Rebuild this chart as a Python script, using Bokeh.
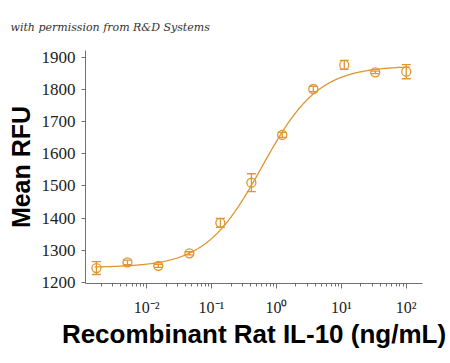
from bokeh.plotting import figure
from bokeh.models import (FixedTicker, Whisker, TeeHead, ColumnDataSource)
from bokeh.embed import file_html
from bokeh.resources import INLINE
import numpy as np

# data
conc = [0.00169, 0.00508, 0.0152, 0.0457, 0.137, 0.412, 1.23, 3.70, 11.1, 33.3, 100.0]
mean_rfu = [1244, 1262, 1251, 1290, 1385, 1510, 1659, 1802, 1877, 1854, 1856]
err = [20, 7, 5, 5, 14, 28, 8, 8, 14, 4, 22]

# 4PL fit parameters
fit_bottom = 1246
fit_top = 1874
fit_ec50 = 0.6
fit_hill = 1.0

x_ticks = [0.01, 0.1, 1, 10, 100]
x_tick_labels = ["10\u207b\u00b2", "10\u207b\u00b9", "10\u2070", "10\u00b9", "10\u00b2"]
y_ticks = [1200, 1300, 1400, 1500, 1600, 1700, 1800, 1900]

orange = "#DE9632"
axis_col = "#707070"

p = figure(frame_width=337, frame_height=233, x_axis_type="log",
           x_range=(10 ** -2.94, 10 ** 2.25), y_range=(1196, 1922),
           output_backend="svg", toolbar_location=None,
           min_border_left=85, min_border_right=25, min_border_top=50, min_border_bottom=72,
           title="with permission from R&D Systems")
p.title.align = "left"
p.title.offset = -75
p.title.standoff = 34
p.title.text_font = "DejaVu Serif"
p.title.text_font_style = "italic"
p.title.text_font_size = "11px"
p.title.text_color = "#333333"

p.outline_line_color = None
p.grid.visible = False
p.background_fill_color = "white"

xs = np.logspace(-2.8, 2.05, 300)
ys = fit_bottom + (fit_top - fit_bottom) / (1 + (fit_ec50 / xs) ** fit_hill)
p.line(xs, ys, line_color=orange, line_width=1.3)

lower = [m - e for m, e in zip(mean_rfu, err)]
upper = [m + e for m, e in zip(mean_rfu, err)]
src = ColumnDataSource(dict(x=conc, y=mean_rfu, lower=lower, upper=upper))
w = Whisker(source=src, base="x", lower="lower", upper="upper", line_color=orange, line_width=1.3,
            upper_head=TeeHead(size=9, line_color=orange, line_width=1.3),
            lower_head=TeeHead(size=9, line_color=orange, line_width=1.3))
p.add_layout(w)
p.scatter("x", "y", source=src, marker="circle", size=9, fill_color=None,
          line_color=orange, line_width=1.3)

xa = p.xaxis[0]
xa.ticker = FixedTicker(ticks=x_ticks,
                        minor_ticks=[m * 10.0 ** k for k in range(-3, 3) for m in range(2, 10)])
xa.major_label_overrides = {t: l for t, l in zip(x_ticks, x_tick_labels)}
xa.axis_label = "Recombinant Rat IL-10 (ng/mL)"
xa.axis_label_text_font = "Liberation Sans"
xa.axis_label_text_font_style = "bold"
xa.axis_label_text_font_size = "26px"
xa.axis_label_text_color = "black"
xa.axis_label_standoff = 0
xa.major_label_text_font = "Liberation Sans Narrow"
xa.major_label_text_font_size = "16px"
xa.major_label_text_color = "#222222"
xa.major_label_standoff = 10
xa.major_tick_in = 0
xa.major_tick_out = 5
xa.minor_tick_in = 0
xa.minor_tick_out = 3
xa.axis_line_color = axis_col
xa.major_tick_line_color = axis_col
xa.minor_tick_line_color = axis_col

ya = p.yaxis[0]
ya.ticker = FixedTicker(ticks=y_ticks)
ya.axis_label = "Mean RFU"
ya.axis_label_text_font = "Liberation Sans"
ya.axis_label_text_font_style = "bold"
ya.axis_label_text_font_size = "25px"
ya.axis_label_text_color = "black"
ya.axis_label_standoff = 4
ya.major_label_text_font = "Liberation Sans Narrow"
ya.major_label_text_font_size = "17px"
ya.major_label_text_color = "#222222"
ya.major_label_standoff = 6
ya.major_tick_in = 0
ya.major_tick_out = 4
ya.minor_tick_line_color = None
ya.axis_line_color = axis_col
ya.major_tick_line_color = axis_col

open("out.html", "w").write(file_html(p, INLINE))
